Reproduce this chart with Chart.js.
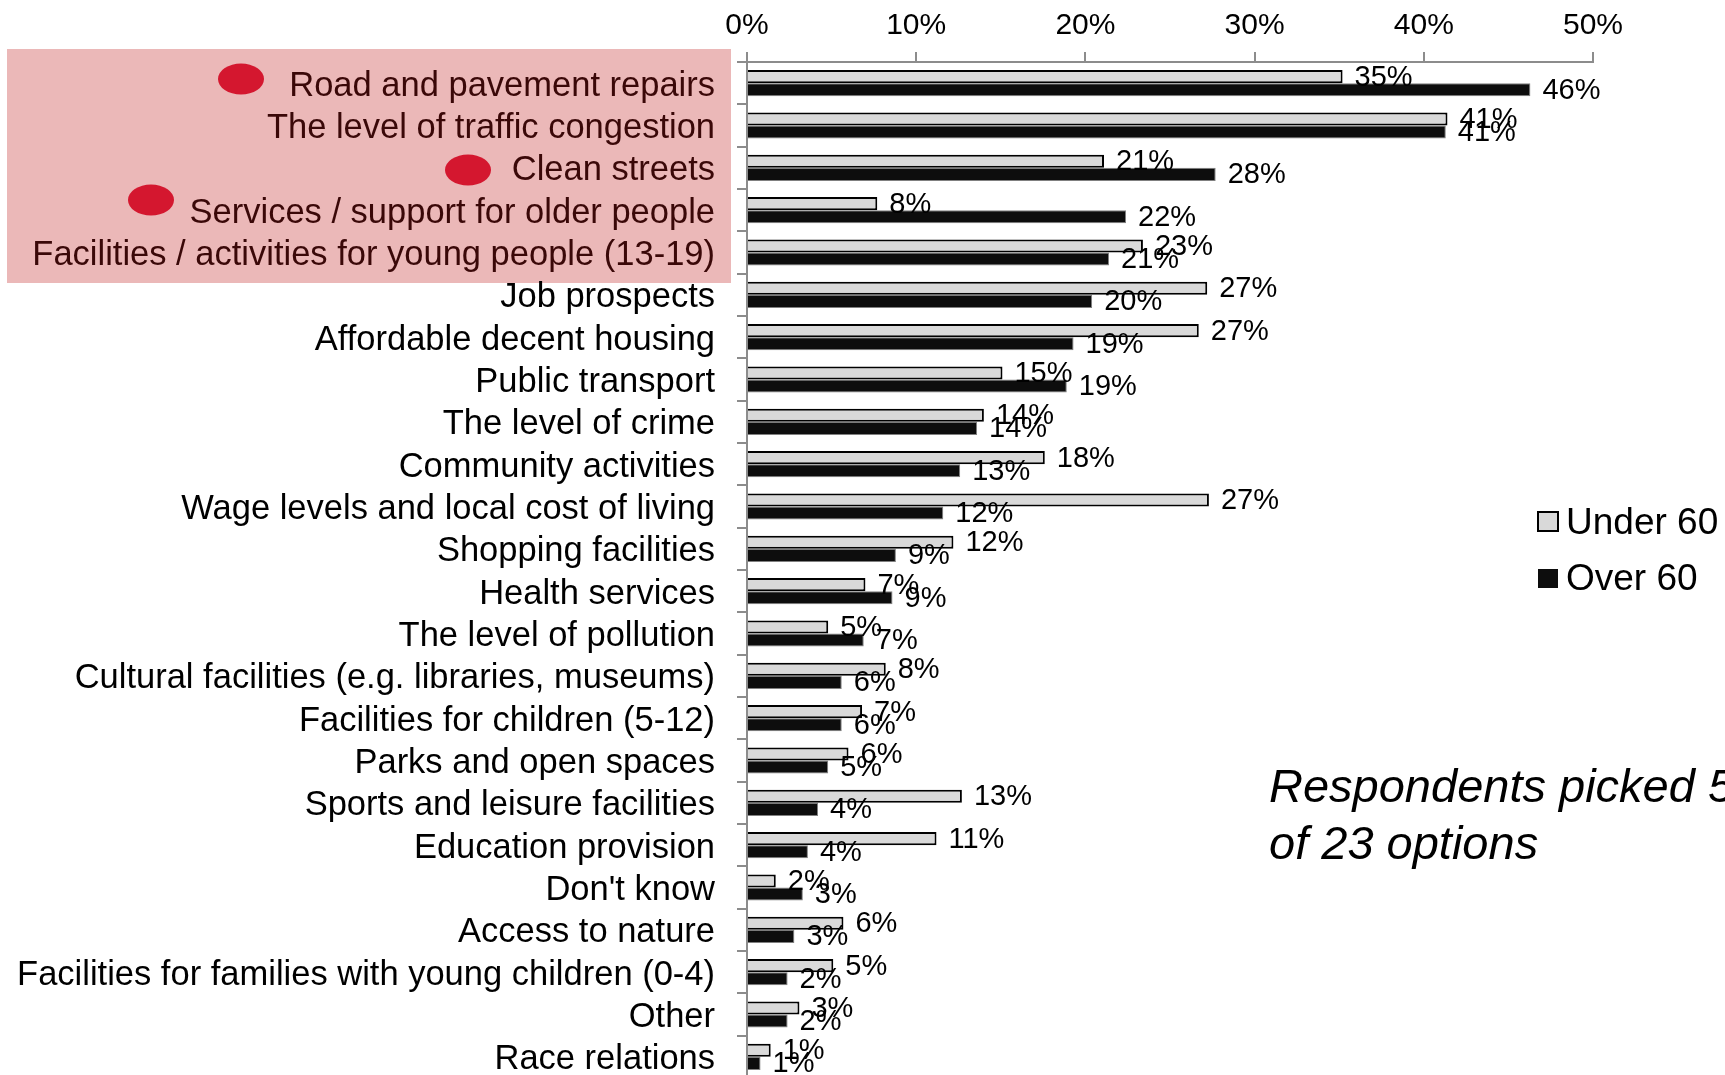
<!DOCTYPE html>
<html>
<head>
<meta charset="utf-8">
<title>Priorities by age group</title>
<script src="https://cdn.jsdelivr.net/npm/chart.js@4.4.1/dist/chart.umd.min.js"></script>
<style>
  html, body { margin: 0; padding: 0; background: #fff; overflow: hidden; }
  #wrap { width: 1725px; height: 1078px; }
</style>
</head>
<body>
<div id="wrap"><canvas id="chart" width="1725" height="1078"></canvas></div>
<script>
const categories = [
  'Road and pavement repairs',
  'The level of traffic congestion',
  'Clean streets',
  'Services / support for older people',
  'Facilities / activities for young people (13-19)',
  'Job prospects',
  'Affordable decent housing',
  'Public transport',
  'The level of crime',
  'Community activities',
  'Wage levels and local cost of living',
  'Shopping facilities',
  'Health services',
  'The level of pollution',
  'Cultural facilities (e.g. libraries, museums)',
  'Facilities for children (5-12)',
  'Parks and open spaces',
  'Sports and leisure facilities',
  'Education provision',
  "Don't know",
  'Access to nature',
  'Facilities for families with young children (0-4)',
  'Other',
  'Race relations'
];

// percent of respondents
const under60 = [35.2, 41.4, 21.1, 7.7, 23.4, 27.2, 26.7, 15.1, 14.0, 17.6, 27.3, 12.2,
                 7.0, 4.8, 8.2, 6.8, 6.0, 12.7, 11.2, 1.7, 5.7, 5.1, 3.1, 1.4];
const over60  = [46.3, 41.3, 27.7, 22.4, 21.4, 20.4, 19.3, 18.9, 13.6, 12.6, 11.6, 8.8,
                 8.6, 6.9, 5.6, 5.6, 4.8, 4.2, 3.6, 3.3, 2.8, 2.4, 2.4, 0.8];

const seriesNames = ['Under 60', 'Over 60'];
const xTicks = [0, 10, 20, 30, 40, 50];
const highlightCount = 5;

const FONT = "'Liberation Sans', Arial, sans-serif";
const AXIS_GREY = '#8c8c8c';

const extrasPlugin = {
  id: 'extras',
  beforeDraw(chart) {
    const ctx = chart.ctx;
    ctx.save();
    // highlight box behind the top five options
    ctx.fillStyle = '#ebb8b8';
    ctx.fillRect(7, 49, 724, 234);
    ctx.restore();
  },
  afterDatasetsDraw(chart) {
    const ctx = chart.ctx;
    ctx.save();
    ctx.font = '29px ' + FONT;
    ctx.fillStyle = '#000';
    ctx.textAlign = 'left';
    ctx.textBaseline = 'middle';
    chart.data.datasets.forEach((ds, i) => {
      const meta = chart.getDatasetMeta(i);
      meta.data.forEach((bar, j) => {
        ctx.fillText(Math.round(ds.data[j]) + '%', bar.x + 12, bar.y + 1);
      });
    });
    ctx.restore();
  },
  afterDraw(chart) {
    const ctx = chart.ctx;
    ctx.save();

    // red markers
    ctx.fillStyle = '#d4172f';
    [[241, 79], [468, 170], [151, 200]].forEach(([cx, cy]) => {
      ctx.beginPath();
      ctx.ellipse(cx, cy, 23, 15.5, 0, 0, Math.PI * 2);
      ctx.fill();
    });

    // legend
    ctx.font = '37px ' + FONT;
    ctx.textBaseline = 'middle';
    ctx.textAlign = 'left';
    ctx.fillStyle = '#d9d9d9';
    ctx.fillRect(1538, 512, 20, 19);
    ctx.strokeStyle = '#000';
    ctx.lineWidth = 2;
    ctx.strokeRect(1538, 512, 20, 19);
    ctx.fillStyle = '#0d0d0d';
    ctx.fillRect(1538, 569, 20, 19);
    ctx.fillStyle = '#000';
    ctx.fillText(seriesNames[0], 1566, 524);
    ctx.fillText(seriesNames[1], 1566, 580);

    // note
    ctx.font = 'italic 47px ' + FONT;
    ctx.textBaseline = 'alphabetic';
    ctx.fillText('Respondents picked 5 out', 1269, 802);
    ctx.fillText('of 23 options', 1269, 859);

    ctx.restore();
  }
};

const ctx = document.getElementById('chart').getContext('2d');
new Chart(ctx, {
  type: 'bar',
  data: {
    labels: categories,
    datasets: [
      {
        label: seriesNames[0],
        data: under60,
        backgroundColor: '#d9d9d9',
        borderColor: '#000',
        borderWidth: 2,
        borderSkipped: 'start'
      },
      {
        label: seriesNames[1],
        data: over60,
        backgroundColor: '#0d0d0d',
        borderColor: '#808080',
        borderWidth: 1,
        borderSkipped: 'start'
      }
    ]
  },
  options: {
    indexAxis: 'y',
    responsive: false,
    animation: false,
    devicePixelRatio: 1,
    layout: { padding: { left: 0, top: 0, right: 132, bottom: 0 } },
    datasets: {
      bar: { barPercentage: 1.0, categoryPercentage: 0.62 }
    },
    scales: {
      x: {
        type: 'linear',
        position: 'top',
        min: 0,
        max: 50,
        afterBuildTicks(scale) {
          scale.ticks = xTicks.map(v => ({ value: v }));
        },
        afterFit(scale) {
          scale.height = 62;
          scale.paddingLeft = 0;
          scale.paddingRight = 0;
        },
        ticks: {
          callback: v => v + '%',
          color: '#000',
          font: { family: FONT, size: 30 },
          padding: 8,
          maxRotation: 0
        },
        grid: {
          drawOnChartArea: false,
          drawTicks: true,
          tickLength: 10,
          color: AXIS_GREY,
          lineWidth: 2
        },
        border: { display: true, color: AXIS_GREY, width: 2 }
      },
      y: {
        type: 'category',
        afterFit(scale) {
          scale.width = 747;
          scale.paddingTop = 0;
          scale.paddingBottom = 0;
        },
        ticks: {
          autoSkip: false,
          color: c => (c.index < highlightCount ? '#3a0808' : '#000'),
          font: { family: FONT, size: 34.5 },
          padding: 22,
          labelOffset: 3
        },
        grid: {
          drawOnChartArea: false,
          drawTicks: true,
          tickLength: 10,
          color: AXIS_GREY,
          lineWidth: 2
        },
        border: { display: true, color: AXIS_GREY, width: 2 }
      }
    },
    plugins: {
      legend: { display: false },
      tooltip: { enabled: false },
      title: { display: false }
    }
  },
  plugins: [extrasPlugin]
});
</script>
</body>
</html>
